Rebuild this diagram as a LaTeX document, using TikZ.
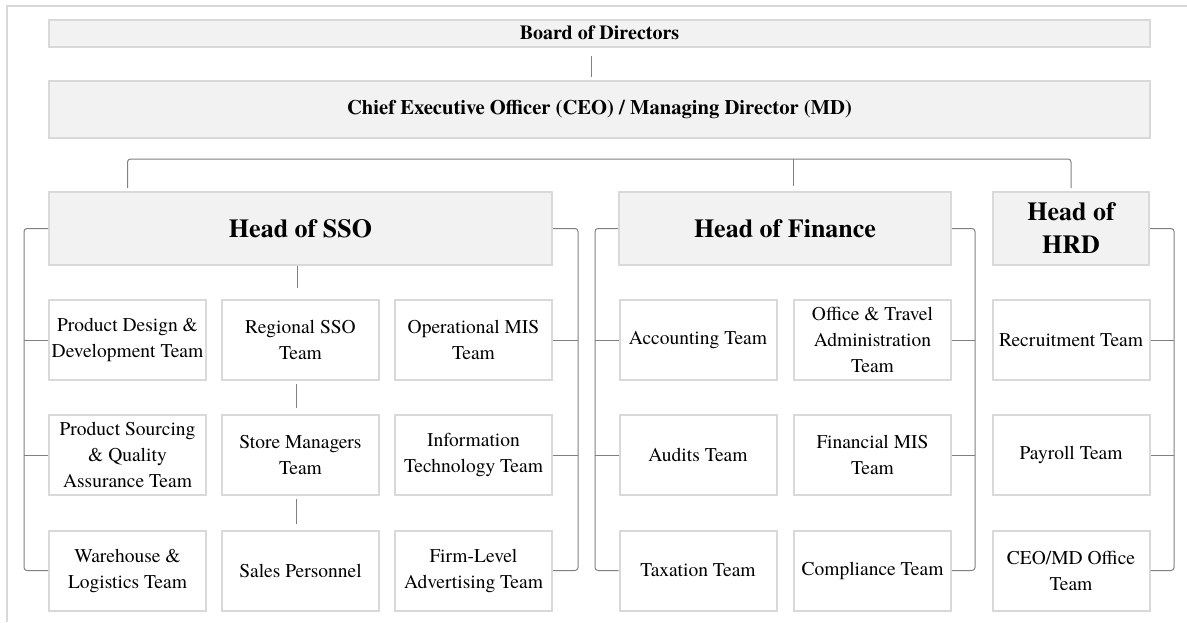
\documentclass[tikz,border=0pt]{standalone}
\usepackage{fontspec}
\setmainfont{texgyretermes}[
    Extension=.otf,
    UprightFont=*-regular,
    BoldFont=*-bold,
    ItalicFont=*-italic,
    BoldItalicFont=*-bolditalic]
\definecolor{borde}{HTML}{D9D9D9}
\definecolor{relleno}{HTML}{F2F2F2}
\definecolor{linea}{HTML}{808080}

\begin{document}
\begin{tikzpicture}[
        x=1pt, y=-1pt,
        jefe/.style={
            draw=borde,
            fill=relleno,
            line width=2pt,
            inner sep=0pt,
            align=center,
            font=\bfseries\fontsize{26}{33}\selectfont
        },
        equipo/.style={
            draw=borde,
            fill=white,
            line width=2pt,
            inner sep=0pt,
            align=center,
            minimum width=157,
            minimum height=80,
            font=\fontsize{19.5}{26}\selectfont
        },
        enlace/.style={
            draw=linea,
            line width=1pt,
            rounded corners=3pt
        }
    ]
    \useasboundingbox (0,0) rectangle (1187,622);

    % Marco
    \draw[borde, line width=2pt] (7,622) -- (7,6) -- (1187,6);

    % Direccion
    \node[jefe, minimum width=1101, minimum height=27, font=\bfseries\fontsize{20}{24}\selectfont]
        (junta) at (599.5,33) {Board of Directors};
    \node[jefe, minimum width=1101, minimum height=57, font=\bfseries\fontsize{20.6}{24}\selectfont]
        (ceo) at (599.5,109.5) {Chief Executive Officer (CEO) / Managing Director (MD)};

    \node[jefe, minimum width=503, minimum height=73] (sso) at (300.5,228.5) {Head of SSO};
    \node[jefe, minimum width=332, minimum height=73] (fin) at (785,228.5)   {Head of Finance};
    \node[jefe, minimum width=156, minimum height=73] (hrd) at (1071,228.5)  {Head of\\HRD};

    % Equipos SSO
    \node[equipo] (pd) at (127.5,340)   {Product Design \&\\Development Team};
    \node[equipo] (rs) at (300.5,340)   {Regional SSO\\Team};
    \node[equipo] (om) at (473.5,340)   {Operational MIS\\Team};
    \node[equipo] (ps) at (127.5,455)   {Product Sourcing\\\& Quality\\Assurance Team};
    \node[equipo] (sm) at (300.5,455)   {Store Managers\\Team};
    \node[equipo] (it) at (473.5,455)   {Information\\Technology Team};
    \node[equipo] (wl) at (127.5,570.5) {Warehouse \&\\Logistics Team};
    \node[equipo] (sp) at (300.5,570.5) {Sales Personnel};
    \node[equipo] (fa) at (473.5,570.5) {Firm-Level\\Advertising Team};

    % Equipos Finance
    \node[equipo] (ac) at (698,340)     {Accounting Team};
    \node[equipo] (ot) at (872.5,340)   {Office \& Travel\\Administration\\Team};
    \node[equipo] (au) at (698,455)     {Audits Team};
    \node[equipo] (fm) at (872.5,455)   {Financial MIS\\Team};
    \node[equipo] (tx) at (698,570.5)   {Taxation Team};
    \node[equipo] (co) at (872.5,570.5) {Compliance Team};

    % Equipos HRD
    \node[equipo] (re) at (1071,340)    {Recruitment Team};
    \node[equipo] (pa) at (1071,455)    {Payroll Team};
    \node[equipo] (of) at (1071,570.5)  {CEO/MD Office\\Team};

    % Conectores
    \coordinate (barra) at (0,159);
    \draw[enlace, shorten <=8pt, shorten >=3pt] ([xshift=-8pt]junta.south) -- ([xshift=-8pt]ceo.north);
    \draw[enlace, shorten <=3pt, shorten >=3pt] (pd |- sso.north) |- (barra -| hrd) -- (hrd.north);
    \draw[enlace, shorten >=5pt] (barra -| ot.west) -- (ot.west |- fin.north);

    \draw[enlace, shorten >=11pt] ([xshift=-3pt]sso.south) -- ([xshift=-3pt]rs.north);
    \draw[enlace, shorten <=3pt, shorten >=6pt] ([xshift=-4pt]rs.south) -- ([xshift=-4pt]sm.north);
    \draw[enlace, shorten <=3pt, shorten >=6pt] ([xshift=-4pt]sm.south) -- ([xshift=-4pt]sp.north);

    \coordinate (ssoizq) at (24,0);
    \draw[enlace] (sso.west) -| (ssoizq |- wl) -- (wl.west);
    \draw[enlace] (ssoizq |- pd) -- (pd.west);
    \draw[enlace] (ssoizq |- ps) -- (ps.west);

    \coordinate (ssoder) at (578,0);
    \draw[enlace] (sso.east) -| (ssoder |- fa) -- (fa.east);
    \draw[enlace] (ssoder |- om) -- (om.east);
    \draw[enlace] (ssoder |- it) -- (it.east);

    \coordinate (finizq) at (595,0);
    \draw[enlace] (fin.west) -| (finizq |- tx) -- (tx.west);
    \draw[enlace] (finizq |- ac) -- (ac.west);
    \draw[enlace] (finizq |- au) -- (au.west);

    \coordinate (finder) at (975,0);
    \draw[enlace] (fin.east) -| (finder |- co) -- (co.east);
    \draw[enlace] (finder |- ot) -- (ot.east);
    \draw[enlace] (finder |- fm) -- (fm.east);

    \coordinate (hrdder) at (1174,0);
    \draw[enlace] (hrd.east) -| (hrdder |- of) -- (of.east);
    \draw[enlace] (hrdder |- re) -- (re.east);
    \draw[enlace] (hrdder |- pa) -- (pa.east);

\end{tikzpicture}
\end{document}
